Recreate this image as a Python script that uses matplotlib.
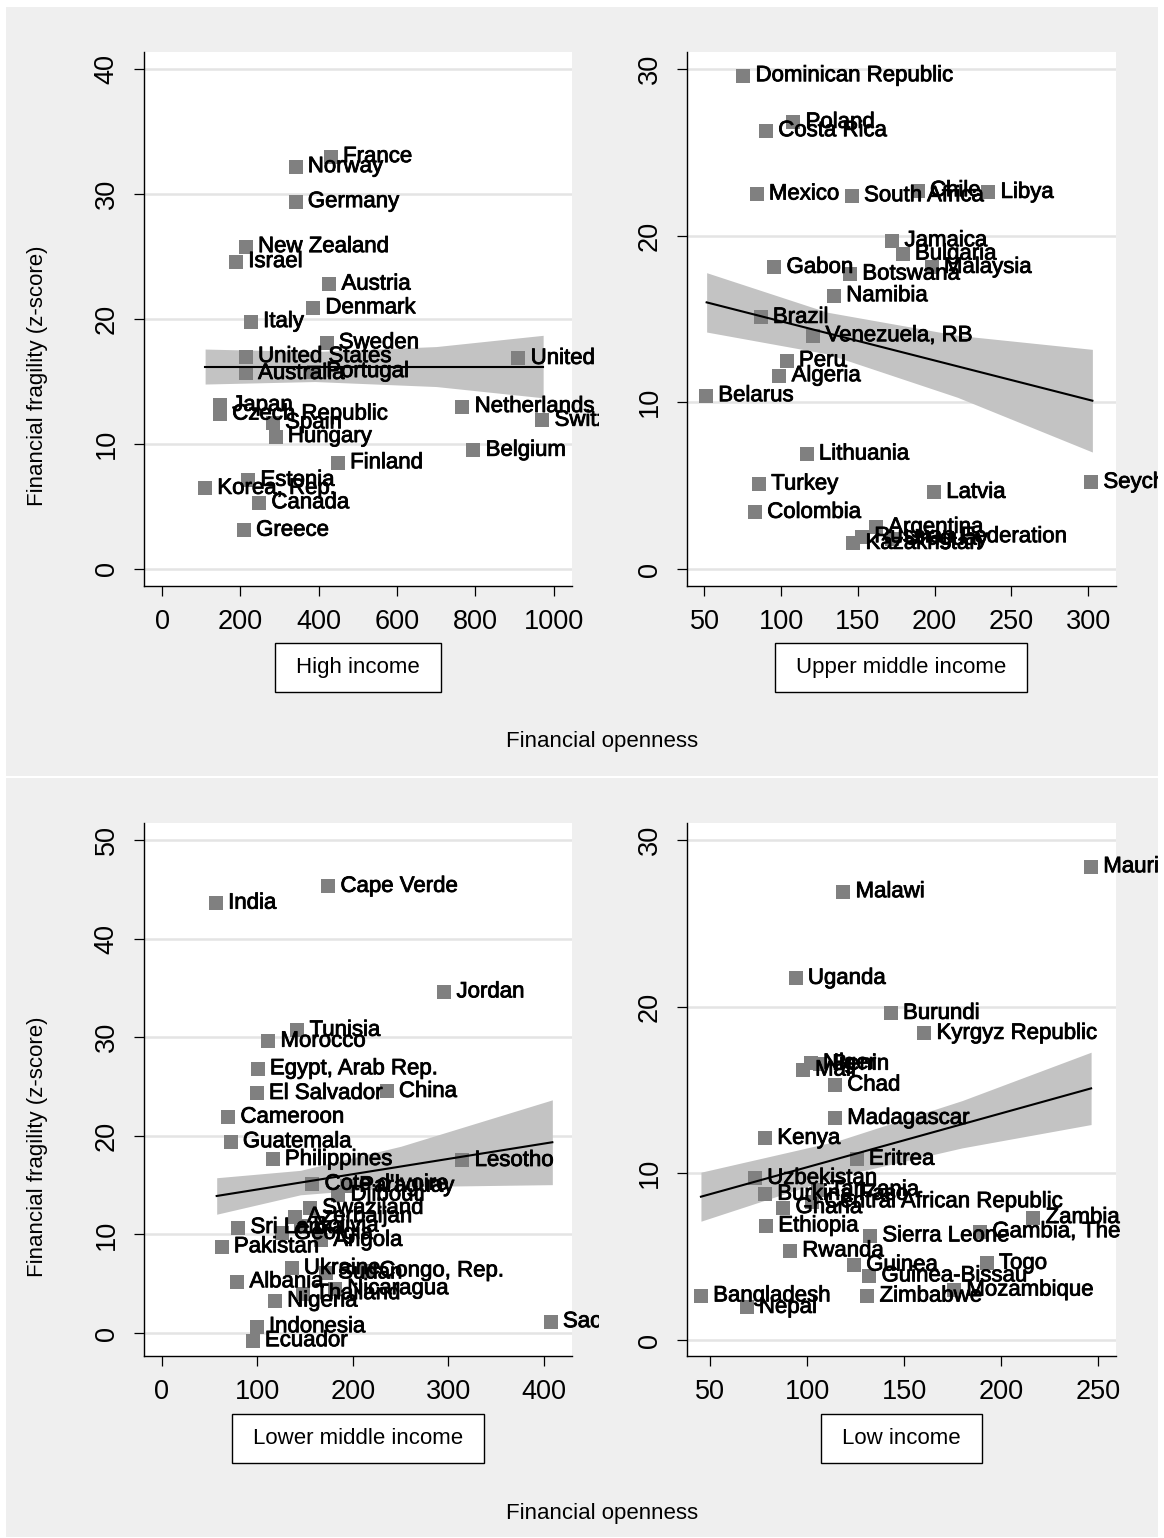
import matplotlib; matplotlib.use("Agg")
import matplotlib.pyplot as plt
import matplotlib.patheffects as pe
from matplotlib.patches import Rectangle
from matplotlib.transforms import Bbox, TransformedBbox

plt.rcParams['font.family'] = ['Liberation Sans', 'DejaVu Sans']

# ---- data ----
high_names = ["France", "Norway", "Germany", "New Zealand", "Israel", "Austria", "Denmark",
              "Italy", "Sweden", "United States", "Australia", "Portugal", "Japan",
              "Czech Republic", "Spain", "Hungary", "Finland", "Estonia", "Korea, Rep.",
              "Canada", "Greece", "United Kingdom", "Netherlands", "Switzerland", "Belgium"]
high_x = [431, 341, 341, 214, 189, 427, 386, 227, 420, 214, 214, 388, 148, 148, 283, 290,
          449, 220, 110, 248, 209, 910, 767, 971, 795]
high_y = [33.0, 32.2, 29.4, 25.8, 24.6, 22.8, 20.9, 19.8, 18.1, 17.0, 15.65, 15.8, 13.1, 12.4,
          11.7, 10.6, 8.5, 7.1, 6.45, 5.3, 3.1, 16.85, 13.0, 11.9, 9.5]
high_fit_x = [110, 973]
high_fit_y = [16.2, 16.2]
high_band_x = [110, 390, 700, 973]
high_band_lo = [14.8, 15.0, 14.6, 13.7]
high_band_hi = [17.6, 17.4, 17.8, 18.7]

um_names = ["Dominican Republic", "Poland", "Costa Rica", "Mexico", "South Africa", "Chile",
            "Libya", "Jamaica", "Bulgaria", "Gabon", "Botswana", "Malaysia", "Namibia", "Brazil",
            "Venezuela, RB", "Peru", "Algeria", "Belarus", "Lithuania", "Turkey", "Colombia",
            "Latvia", "Seychelles", "Argentina", "Uruguay", "Russian Federation", "Kazakhstan"]
um_x = [75.3, 107.9, 90.1, 84.0, 146.0, 189.0, 235.0, 172.4, 179.2, 95.5, 144.9, 198.1, 134.4,
        86.6, 120.9, 103.6, 98.8, 51.0, 116.6, 85.5, 82.9, 199.6, 302.0, 161.8, 172.0, 152.7, 147.0]
um_y = [29.6, 26.8, 26.3, 22.5, 22.4, 22.7, 22.6, 19.7, 18.9, 18.1, 17.7, 18.1, 16.4, 15.1, 14.0,
        12.5, 11.6, 10.4, 6.9, 5.1, 3.4, 4.6, 5.2, 2.5, 1.8, 1.94, 1.54]
um_fit_x = [51.4, 302.8]
um_fit_y = [16.0, 10.1]
um_band_x = [51.4, 130, 215, 302.8]
um_band_lo = [14.22, 12.91, 10.30, 7.02]
um_band_hi = [17.78, 15.41, 14.02, 13.18]

lm_names = ["Cape Verde", "India", "Jordan", "Tunisia", "Morocco", "Egypt, Arab Rep.",
            "El Salvador", "China", "Cameroon", "Guatemala", "Philippines", "Lesotho",
            "Cote d'Ivoire", "Paraguay", "Djibouti", "Swaziland", "Azerbaijan", "Sri Lanka",
            "Bolivia", "Georgia", "Angola", "Pakistan", "Ukraine", "Congo, Rep.", "Sudan",
            "Albania", "Nicaragua", "Thailand", "Nigeria", "Indonesia", "Ecuador",
            "Sao Tome and Principe"]
lm_x = [174.1, 56.5, 295.6, 141.7, 111.3, 100.2, 99.2, 235.3, 69.4, 71.9, 115.9, 314.5, 157.4,
        193.7, 184.6, 155.0, 139.3, 79.9, 145.5, 125.3, 166.5, 62.5, 135.8, 214.7, 171.7, 78.8,
        181.2, 147.6, 118.3, 99.2, 95.0, 407.0]
lm_y = [45.3, 43.6, 34.6, 30.7, 29.6, 26.8, 24.3, 24.5, 21.9, 19.4, 17.6, 17.5, 15.1, 14.9, 14.0,
        12.65, 11.8, 10.7, 10.85, 10.1, 9.4, 8.75, 6.55, 6.3, 6.1, 5.2, 4.5, 4.0, 3.25, 0.64,
        -0.78, 1.15]
lm_fit_x = [57.3, 408.7]
lm_fit_y = [13.9, 19.35]
lm_band_x = [57.3, 145, 250, 408.7]
lm_band_lo = [12.05, 14.02, 14.84, 15.05]
lm_band_hi = [15.75, 16.50, 18.94, 23.65]

li_names = ["Mauritius", "Malawi", "Uganda", "Burundi", "Kyrgyz Republic", "Mali", "Niger",
            "Benin", "Chad", "Madagascar", "Kenya", "Eritrea", "Uzbekistan", "Burkina Faso",
            "Tanzania", "Central African Republic", "Ghana", "Ethiopia", "Sierra Leone",
            "Gambia, The", "Zambia", "Rwanda", "Guinea", "Guinea-Bissau", "Togo", "Bangladesh",
            "Nepal", "Zimbabwe", "Mozambique"]
li_x = [246.5, 118.6, 94.0, 143.1, 160.4, 97.7, 101.8, 106.6, 114.3, 114.3, 78.2, 125.5, 73.0,
        78.2, 105.5, 102.5, 87.6, 78.7, 132.4, 189.2, 216.7, 91.1, 124.1, 132.0, 192.6, 45.1,
        68.7, 131.0, 175.8]
li_y = [28.4, 26.9, 21.7, 19.6, 18.4, 16.2, 16.6, 16.55, 15.3, 13.3, 12.1, 10.85, 9.7, 8.75, 9.0,
        8.3, 7.95, 6.85, 6.25, 6.5, 7.35, 5.35, 4.5, 3.85, 4.6, 2.65, 1.96, 2.64, 3.0]
li_fit_x = [45.1, 246.5]
li_fit_y = [8.6, 15.1]
li_band_x = [45.1, 115, 180, 246.5]
li_band_lo = [7.13, 9.79, 11.53, 12.93]
li_band_hi = [10.07, 11.93, 14.37, 17.27]

# ---- layout (pixels of a 1164x1538 canvas) ----
W, H = 1164, 1538
def fx(px): return px / W
def fy(py): return 1 - py / H

fig = plt.figure(figsize=(W / 100, H / 100), dpi=100, facecolor="white")
for y0, y1 in [(6.7, 775.7), (778.3, 1537)]:
    fig.patches.append(Rectangle((fx(6), fy(y1)), fx(1158) - fx(6), fy(y0) - fy(y1),
                                 transform=fig.transFigure, fc="#efefef", ec="none", zorder=-5))

FS = 16
heavy = [pe.withStroke(linewidth=0.6, foreground="black")]

def panel(box, clip_r, names, xs, ys, fit_x, fit_y, bx, blo, bhi, xlim, ylim, xticks, yticks, cap, cap_y):
    l, t, r, b = box
    ax = fig.add_axes([fx(l), fy(b), fx(r) - fx(l), fy(t) - fy(b)])
    ax.set_facecolor("white")
    ax.set_xlim(xlim); ax.set_ylim(ylim)
    ax.fill_between(bx, blo, bhi, color="#c3c3c3", lw=0, zorder=1)
    ax.plot(xs, ys, "s", ms=10.3, color="#808080", mew=0, zorder=2)
    clip = TransformedBbox(Bbox.from_extents(fx(l), fy(b + 5), fx(clip_r), fy(t - 5)), fig.transFigure)
    for n, x, y in zip(names, xs, ys):
        tx = ax.annotate(n, (x, y), xytext=(8.8, 0), textcoords="offset points", va="center",
                         ha="left", fontsize=FS, color="black", zorder=3, annotation_clip=False,
                         path_effects=heavy)
        tx.set_clip_on(True); tx.set_clip_box(clip)
    ax.plot(fit_x, fit_y, color="black", lw=1.5, zorder=4)
    for sp in ["top", "right"]: ax.spines[sp].set_visible(False)
    for sp in ["left", "bottom"]: ax.spines[sp].set_linewidth(1.0)
    ax.set_xticks(xticks); ax.set_yticks(yticks)
    ax.yaxis.grid(True, color="#e4e4e4", lw=1.8); ax.set_axisbelow(True)
    ax.tick_params(direction="out", length=7.5, width=0.9, labelsize=19.5)
    ax.tick_params(axis="x", pad=9)
    ax.tick_params(axis="y", pad=10)
    for lab in ax.get_yticklabels():
        lab.set_rotation(90); lab.set_va("center")
    cx = (l + r) / 2
    ct = fig.text(fx(cx), fy(cap_y), cap, ha="center", va="center", fontsize=FS)
    fig.canvas.draw()
    ext = ct.get_window_extent()
    bw = ext.width + 42
    bh = 49
    fig.patches.append(Rectangle((fx(cx - bw / 2), fy(cap_y + bh / 2)), bw / W, bh / H,
                                 transform=fig.transFigure, fc="white", ec="black", lw=1.0, zorder=-1))
    return ax

panel((144, 51.7, 572, 585.7), 599, high_names, high_x, high_y, high_fit_x, high_fit_y,
      high_band_x, high_band_lo, high_band_hi, (-46, 1046.7), (-1.34, 41.4),
      range(0, 1001, 200), range(0, 41, 10), "High income", 667.5)
panel((687, 51.7, 1115.7, 585.7), 1158, um_names, um_x, um_y, um_fit_x, um_fit_y,
      um_band_x, um_band_lo, um_band_hi, (38.6, 318.0), (-1.0, 31.04),
      range(50, 301, 50), range(0, 31, 10), "Upper middle income", 667.5)
panel((144, 822.7, 572, 1355.7), 599, lm_names, lm_x, lm_y, lm_fit_x, lm_fit_y,
      lm_band_x, lm_band_lo, lm_band_hi, (-18.8, 429.3), (-2.3, 51.76),
      range(0, 401, 100), range(0, 51, 10), "Lower middle income", 1438.5)
panel((687, 822.7, 1115.7, 1355.7), 1158, li_names, li_x, li_y, li_fit_x, li_fit_y,
      li_band_x, li_band_lo, li_band_hi, (37.9, 259.2), (-0.94, 31.04),
      range(50, 251, 50), range(0, 31, 10), "Low income", 1438.5)

for yy in [742, 1513]:
    fig.text(fx(602), fy(yy), "Financial openness", ha="center", va="center", fontsize=FS)
for yy in [376, 1147]:
    fig.text(fx(38), fy(yy), "Financial fragility (z-score)", ha="center", va="center",
             rotation=90, fontsize=FS)

fig.savefig("out.png", dpi=100, facecolor="white")
